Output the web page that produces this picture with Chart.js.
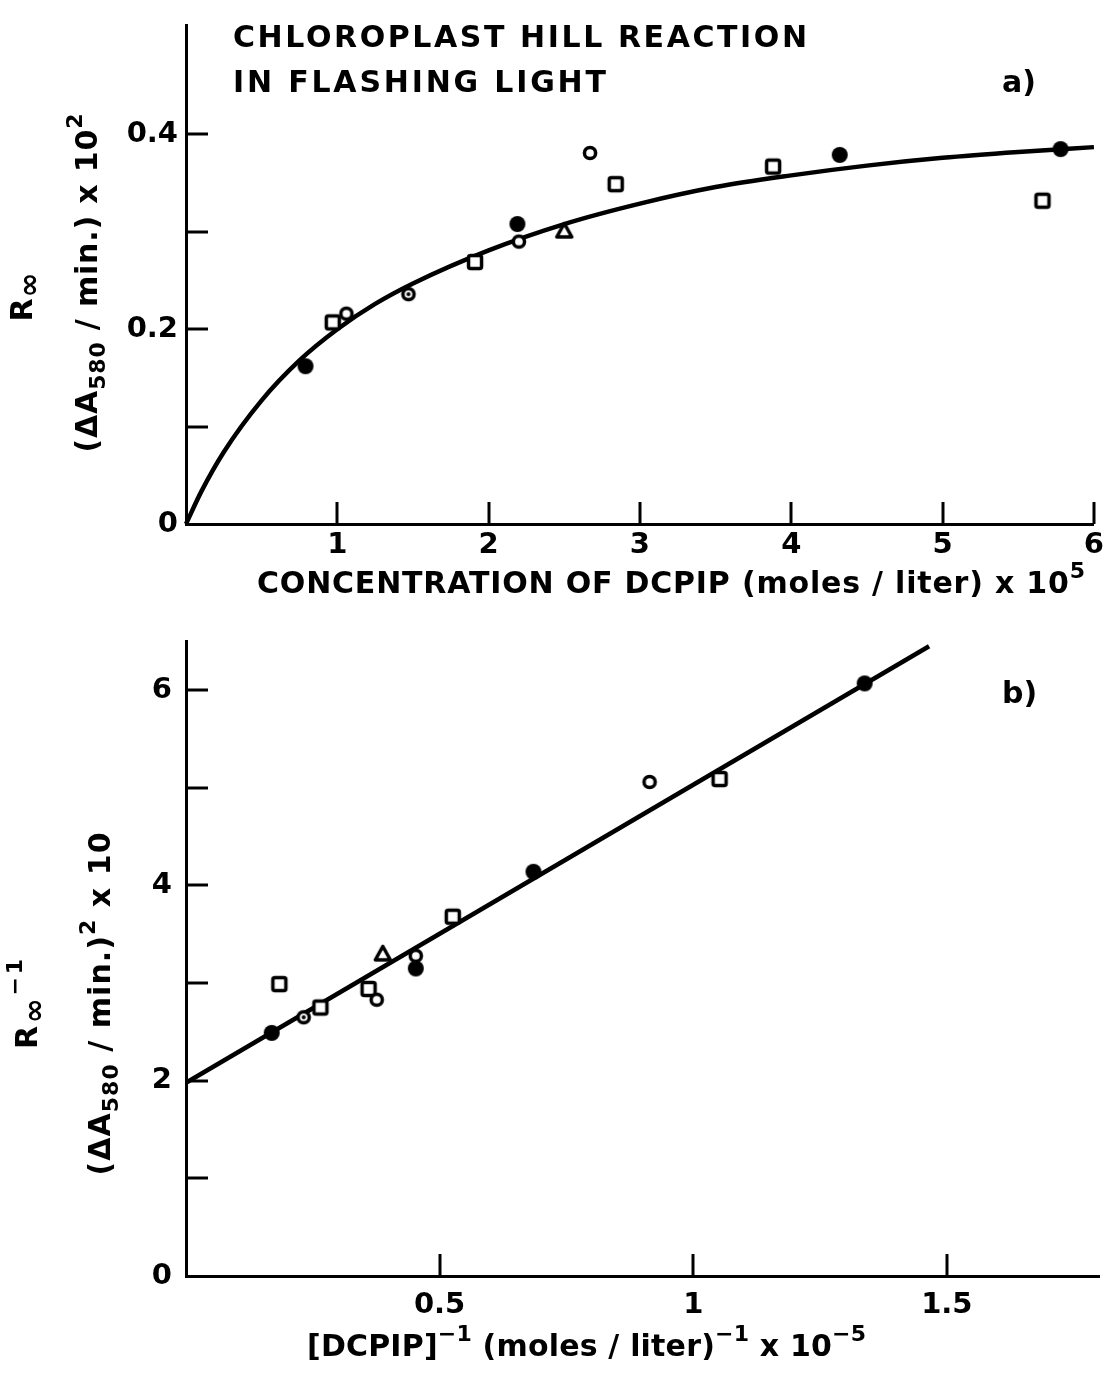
<!DOCTYPE html>
<html lang="en">
<head>
<meta charset="UTF-8">
<title>Chloroplast Hill reaction in flashing light</title>
<style>
    body {
        margin: 0;
        background: #fff;
    }
    .wrap {
        position: relative;
        width: 1108px;
        height: 1374px;
    }
    canvas {
        position: absolute;
        left: 0;
    }
    #chartA { top: 0; }
    #chartB { top: 610px; }
</style>
</head>
<body>
<div class="wrap">
    <canvas id="chartA" width="1108" height="610"></canvas>
    <canvas id="chartB" width="1108" height="764"></canvas>
</div>

<script src="https://cdn.jsdelivr.net/npm/chart.js"></script>
<script>
// ---- panel a) : rate vs DCPIP concentration ----
const aCurveX = [0, 0.1, 0.25, 0.5, 0.75, 1, 1.25, 1.5, 2, 2.5, 3, 3.5, 4, 4.5, 5, 5.5, 6];
const aCurveY = [0, 0.033, 0.074, 0.127, 0.168, 0.200, 0.226, 0.247, 0.281, 0.308, 0.329, 0.346, 0.358, 0.368, 0.376, 0.382, 0.387];
const aFilledX = [0.79, 2.19, 4.32, 5.78];
const aFilledY = [0.162, 0.308, 0.379, 0.385];
const aOpenX = [1.06, 2.20, 2.67];
const aOpenY = [0.216, 0.290, 0.381];
const aDottedX = [1.47];
const aDottedY = [0.236];
const aSquareX = [0.97, 1.91, 2.84, 3.88, 5.66];
const aSquareY = [0.207, 0.269, 0.349, 0.367, 0.332];
const aTriangleX = [2.50];
const aTriangleY = [0.301];
const aXTicks = [1, 2, 3, 4, 5, 6];
const aXTickLabels = ['1', '2', '3', '4', '5', '6'];
const aYTicks = [0, 0.2, 0.4];
const aYTickLabels = ['0', '0.2', '0.4'];
const aYTickMarks = [0.1, 0.2, 0.3, 0.4];

// ---- panel b) : double reciprocal plot ----
const bLineX = [0, 1.465];
const bLineY = [1.98, 6.45];
const bFilledX = [0.169, 0.453, 0.685, 1.338];
const bFilledY = [2.49, 3.15, 4.14, 6.07];
const bOpenX = [0.376, 0.453, 0.914];
const bOpenY = [2.83, 3.28, 5.06];
const bDottedX = [0.232];
const bDottedY = [2.65];
const bSquareX = [0.184, 0.265, 0.360, 0.526, 1.052];
const bSquareY = [2.99, 2.75, 2.94, 3.68, 5.09];
const bTriangleX = [0.388];
const bTriangleY = [3.30];
const bXTicks = [0.5, 1, 1.5];
const bXTickLabels = ['0.5', '1', '1.5'];
const bYTicks = [0, 2, 4, 6];
const bYTickLabels = ['0', '2', '4', '6'];
const bYTickMarks = [1, 2, 3, 4, 5, 6];

const FONT = "'DejaVu Sans', sans-serif";
Chart.defaults.font.family = FONT;
Chart.defaults.color = '#000';

function pts(xs, ys) {
    return xs.map((x, i) => ({ x: x, y: ys[i] }));
}

// hand drawn looking markers
function marker(kind) {
    const c = document.createElement('canvas');
    c.width = 22;
    c.height = 22;
    const g = c.getContext('2d');
    g.lineWidth = 3.5;
    g.strokeStyle = '#000';
    g.fillStyle = '#fff';
    g.beginPath();
    if (kind === 'filled') {
        g.fillStyle = '#000';
        g.arc(11, 11, 8, 0, 2 * Math.PI);
        g.fill();
    } else if (kind === 'open' || kind === 'dotted') {
        g.arc(11, 11, 5.6, 0, 2 * Math.PI);
        g.fill();
        g.stroke();
        if (kind === 'dotted') {
            g.fillStyle = '#000';
            g.beginPath();
            g.arc(11, 11, 2, 0, 2 * Math.PI);
            g.fill();
        }
    } else if (kind === 'square') {
        g.roundRect(4.5, 4.5, 13, 13, 2);
        g.fill();
        g.stroke();
    } else if (kind === 'triangle') {
        g.lineJoin = 'round';
        g.moveTo(11, 3.5);
        g.lineTo(18.5, 17);
        g.lineTo(3.5, 17);
        g.closePath();
        g.fill();
        g.stroke();
    }
    return c;
}

const markers = {
    filled: marker('filled'),
    open: marker('open'),
    dotted: marker('dotted'),
    square: marker('square'),
    triangle: marker('triangle')
};

// ticks pointing into the plot
const inwardTicks = {
    id: 'inwardTicks',
    afterDraw(chart, args, opts) {
        const { ctx, scales: { x, y } } = chart;
        ctx.save();
        ctx.strokeStyle = '#000';
        ctx.lineWidth = 3;
        opts.x.forEach(v => {
            const px = Math.round(x.getPixelForValue(v));
            ctx.beginPath();
            ctx.moveTo(px, y.bottom);
            ctx.lineTo(px, y.bottom - opts.len);
            ctx.stroke();
        });
        opts.y.forEach(v => {
            const py = Math.round(y.getPixelForValue(v));
            ctx.beginPath();
            ctx.moveTo(x.left, py);
            ctx.lineTo(x.left + opts.len, py);
            ctx.stroke();
        });
        ctx.restore();
    }
};

// text with sub/superscripts, stretched to a given width
// kinds: n = normal, sub / sup = small lowered / raised, big = full size lowered
const richText = {
    id: 'richText',
    afterDraw(chart, args, opts) {
        const ctx = chart.ctx;
        opts.items.forEach(item => {
            const size = item.size;
            const sizeFor = k => (k === 'n' || k === 'big') ? size : Math.round(size * 0.72);
            const fontFor = k => 'bold ' + sizeFor(k) + 'px ' + FONT;
            ctx.save();
            ctx.fillStyle = '#000';
            ctx.textBaseline = 'alphabetic';
            ctx.textAlign = 'left';
            ctx.letterSpacing = '0px';
            let natural = 0, chars = 0;
            item.parts.forEach(([t, k]) => {
                ctx.font = fontFor(k);
                natural += ctx.measureText(t).width;
                chars += t.length;
            });
            const ls = item.width ? (item.width - natural) / Math.max(1, chars - 1) : 0;
            const total = natural + ls * (chars - 1);
            ctx.translate(item.x, item.y);
            let cx = 0;
            if (item.rotate) {
                ctx.rotate(-Math.PI / 2);
                cx = -total / 2;
            }
            item.parts.forEach(([t, k]) => {
                ctx.font = fontFor(k);
                ctx.letterSpacing = '0px';
                const w = ctx.measureText(t).width;
                ctx.letterSpacing = ls + 'px';
                let dy = 0;
                if (k === 'sub') dy = size * 0.28;
                if (k === 'big') dy = size * 0.22;
                if (k === 'sup') dy = -size * 0.5;
                ctx.fillText(t, cx, dy);
                cx += w + ls * t.length;
            });
            ctx.restore();
        });
    }
};

function makeScales(o) {
    const tickFont = { size: 29, weight: 'bold' };
    return {
        x: {
            type: 'linear',
            min: o.xMin,
            max: o.xMax,
            afterBuildTicks: s => { s.ticks = o.xTicks.map(v => ({ value: v })); },
            afterFit: s => { s.height = o.xHeight; },
            grid: { display: false, drawTicks: false },
            border: { display: true, color: '#000', width: 3 },
            ticks: {
                font: tickFont,
                color: '#000',
                padding: o.xPad,
                maxRotation: 0,
                autoSkip: false,
                callback: v => o.xLabels[o.xTicks.indexOf(v)]
            }
        },
        y: {
            type: 'linear',
            min: o.yMin,
            max: o.yMax,
            afterBuildTicks: s => { s.ticks = o.yTicks.map(v => ({ value: v })); },
            afterFit: s => { s.width = 186; },
            grid: { display: false, drawTicks: false },
            border: { display: true, color: '#000', width: 3 },
            ticks: {
                font: tickFont,
                color: '#000',
                padding: o.yPad,
                autoSkip: false,
                callback: v => o.yLabels[o.yTicks.indexOf(v)]
            }
        }
    };
}

function pointSets(sets) {
    return sets.map(([xs, ys, kind]) => ({
        data: pts(xs, ys),
        pointStyle: markers[kind],
        pointRadius: 8,
        showLine: false,
        clip: false
    }));
}

const commonOpts = {
    responsive: false,
    animation: false,
    events: []
};

// panel a)
new Chart(document.getElementById('chartA'), {
    type: 'scatter',
    data: {
        datasets: pointSets([
            [aFilledX, aFilledY, 'filled'],
            [aOpenX, aOpenY, 'open'],
            [aDottedX, aDottedY, 'dotted'],
            [aSquareX, aSquareY, 'square'],
            [aTriangleX, aTriangleY, 'triangle']
        ]).concat([{
            data: pts(aCurveX, aCurveY),
            showLine: true,
            pointRadius: 0,
            borderColor: '#000',
            borderWidth: 4.5,
            cubicInterpolationMode: 'monotone',
            clip: false
        }])
    },
    options: Object.assign({}, commonOpts, {
        layout: { padding: { top: 13, right: 10, left: 0, bottom: 0 } },
        scales: makeScales({
            xMin: 0, xMax: 6, xTicks: aXTicks, xLabels: aXTickLabels, xHeight: 86, xPad: 4,
            yMin: 0, yMax: 0.512, yTicks: aYTicks, yLabels: aYTickLabels, yPad: 8
        }),
        plugins: {
            legend: { display: false },
            tooltip: { enabled: false },
            inwardTicks: { x: aXTicks, y: aYTickMarks, len: 22 },
            richText: {
                items: [
                    { parts: [['CHLOROPLAST HILL REACTION', 'n']], x: 233, y: 47, width: 574, size: 30 },
                    { parts: [['IN FLASHING LIGHT', 'n']], x: 233, y: 92, width: 373, size: 30 },
                    { parts: [['a)', 'n']], x: 1002, y: 92, size: 30 },
                    { parts: [['CONCENTRATION OF DCPIP (moles / liter) x 10', 'n'], ['5', 'sup']], x: 257, y: 593, width: 828, size: 30 },
                    { parts: [['R', 'n'], ['∞', 'big']], x: 32, y: 297, width: 49, size: 30, rotate: true },
                    { parts: [['(ΔA', 'n'], ['580', 'sub'], [' / min.) x 10', 'n'], ['2', 'sup']], x: 97, y: 283, width: 339, size: 30, rotate: true }
                ]
            }
        }
    }),
    plugins: [inwardTicks, richText]
});

// panel b)
new Chart(document.getElementById('chartB'), {
    type: 'scatter',
    data: {
        datasets: pointSets([
            [bFilledX, bFilledY, 'filled'],
            [bOpenX, bOpenY, 'open'],
            [bDottedX, bDottedY, 'dotted'],
            [bSquareX, bSquareY, 'square'],
            [bTriangleX, bTriangleY, 'triangle']
        ]).concat([{
            data: pts(bLineX, bLineY),
            showLine: true,
            pointRadius: 0,
            borderColor: '#000',
            borderWidth: 4.5,
            clip: false
        }])
    },
    options: Object.assign({}, commonOpts, {
        layout: { padding: { top: 15, right: 8, left: 0, bottom: 0 } },
        scales: makeScales({
            xMin: 0, xMax: 1.80, xTicks: bXTicks, xLabels: bXTickLabels, xHeight: 98, xPad: 12,
            yMin: 0, yMax: 6.5, yTicks: bYTicks, yLabels: bYTickLabels, yPad: 14
        }),
        plugins: {
            legend: { display: false },
            tooltip: { enabled: false },
            inwardTicks: { x: bXTicks, y: bYTickMarks, len: 22 },
            richText: {
                items: [
                    { parts: [['b)', 'n']], x: 1002, y: 93, size: 30 },
                    { parts: [['[DCPIP]', 'n'], ['−1', 'sup'], [' (moles / liter)', 'n'], ['−1', 'sup'], [' x 10', 'n'], ['−5', 'sup']], x: 307, y: 746, width: 559, size: 30 },
                    { parts: [['R', 'n'], ['∞', 'big'], ['−1', 'sup']], x: 37, y: 394, width: 90, size: 30, rotate: true },
                    { parts: [['(ΔA', 'n'], ['580', 'sub'], [' / min.)', 'n'], ['2', 'sup'], [' x 10', 'n']], x: 110, y: 394, width: 343, size: 30, rotate: true }
                ]
            }
        }
    }),
    plugins: [inwardTicks, richText]
});
</script>
</body>
</html>
